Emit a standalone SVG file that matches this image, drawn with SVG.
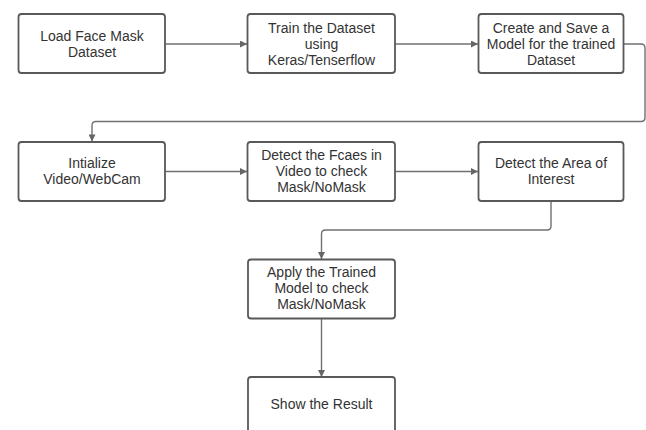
<svg xmlns="http://www.w3.org/2000/svg" width="646" height="430" viewBox="0 0 646 430">
<defs>
<style>
.box{fill:#ffffff;stroke:#595959;stroke-width:1.8}
.t{font-family:"Liberation Sans",Arial,sans-serif;font-size:14px;fill:#333333;text-anchor:middle}
.c{fill:none;stroke:#707070;stroke-width:1.4}
</style>
<marker id="ah" viewBox="0 0 10 10" refX="10" refY="5" markerWidth="8" markerHeight="7" markerUnits="userSpaceOnUse" orient="auto">
<path d="M0,0 L10,5 L0,10 Z" fill="#666666"/>
</marker>
</defs>
<rect width="646" height="430" fill="#ffffff"/>
<g id="connectors">
<path class="c" d="M165,44 H247" marker-end="url(#ah)"/>
<path class="c" d="M395,44 H478" marker-end="url(#ah)"/>
<path class="c" d="M623,44 H641 Q645,44 645,48 V117.5 Q645,121.5 641,121.5 H96 Q92,121.5 92,125.5 V141.5" marker-end="url(#ah)"/>
<path class="c" d="M165,171.5 H247" marker-end="url(#ah)"/>
<path class="c" d="M395,171.5 H478" marker-end="url(#ah)"/>
<path class="c" d="M551,201 V226 Q551,230 547,230 H325.5 Q321.5,230 321.5,234 V259" marker-end="url(#ah)"/>
<path class="c" d="M321.5,318.5 V377" marker-end="url(#ah)"/>
</g>
<g id="n1"><rect class="box" x="18.5" y="14" width="146.5" height="59" rx="3"/>
<text class="t" x="92" y="40.5">Load Face Mask</text><text class="t" x="92" y="56.5">Dataset</text></g>
<g id="n2"><rect class="box" x="247.5" y="14" width="147.5" height="59" rx="3"/>
<text class="t" x="321.5" y="32.5">Train the Dataset</text><text class="t" x="321.5" y="48.5">using</text><text class="t" x="321.5" y="64.5">Keras/Tenserflow</text></g>
<g id="n3"><rect class="box" x="478.5" y="14" width="145" height="59" rx="3"/>
<text class="t" x="551" y="32.5">Create and Save a</text><text class="t" x="551" y="48.5">Model for the trained</text><text class="t" x="551" y="64.5">Dataset</text></g>
<g id="n4"><rect class="box" x="18.5" y="142" width="146.5" height="59" rx="3"/>
<text class="t" x="92" y="168">Intialize</text><text class="t" x="92" y="184">Video/WebCam</text></g>
<g id="n5"><rect class="box" x="247.5" y="142" width="147.5" height="59" rx="3"/>
<text class="t" x="321.5" y="160">Detect the Fcaes in</text><text class="t" x="321.5" y="176">Video to check</text><text class="t" x="321.5" y="192">Mask/NoMask</text></g>
<g id="n6"><rect class="box" x="478.5" y="142" width="145" height="59" rx="3"/>
<text class="t" x="551" y="168">Detect the Area of</text><text class="t" x="551" y="184">Interest</text></g>
<g id="n7"><rect class="box" x="248" y="259.5" width="147" height="59" rx="3"/>
<text class="t" x="321.5" y="277">Apply the Trained</text><text class="t" x="321.5" y="293">Model to check</text><text class="t" x="321.5" y="309">Mask/NoMask</text></g>
<g id="n8"><rect class="box" x="248" y="377" width="147" height="62" rx="3"/>
<text class="t" x="321.5" y="409">Show the Result</text></g>
</svg>
